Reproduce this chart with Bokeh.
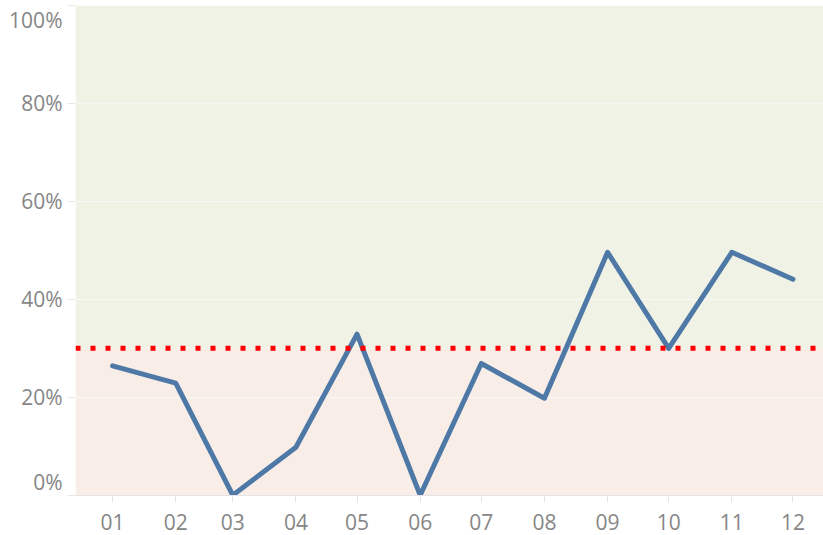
from datetime import datetime
from bokeh.plotting import figure
from bokeh.models import (Range1d, FixedTicker, MonthsTicker, DatetimeTickFormatter,
                          BoxAnnotation, Span)
from bokeh.embed import file_html
from bokeh.resources import INLINE

# ---- data ----
months = ["2019-01-01", "2019-02-01", "2019-03-01", "2019-04-01", "2019-05-01", "2019-06-01",
          "2019-07-01", "2019-08-01", "2019-09-01", "2019-10-01", "2019-11-01", "2019-12-01"]
rates = [26.4, 22.9, 0.0, 9.8, 32.9, 0.0, 26.9, 19.8, 49.6, 30.0, 49.6, 44.1]
target = 30.0
y_ticks = [0, 20, 40, 60, 80, 100]
y_tick_labels = ["0%", "20%", "40%", "60%", "80%", "100%"]

x = [datetime.fromisoformat(m) for m in months]

FONT = "Open Sans"
LABEL_COLOR = "#868686"

p = figure(width=823, height=535, x_axis_type="datetime",
           output_backend="svg", toolbar_location=None,
           x_range=Range1d(datetime(2018, 12, 13, 19), datetime(2019, 12, 16)),
           y_range=Range1d(-0.06, 100.0),
           min_border_left=75, min_border_right=0, min_border_top=5, min_border_bottom=40)
p.outline_line_color = None
p.background_fill_color = "white"
p.border_fill_color = "white"

# shaded bands above / below target
p.add_layout(BoxAnnotation(bottom=target, fill_color="#eff2e4", fill_alpha=1.0,
                           line_color=None, level="image"))
p.add_layout(BoxAnnotation(top=target, fill_color="#f9ede7", fill_alpha=1.0,
                           line_color=None, level="image"))

p.line(x, rates, line_width=5, line_color="#4e79a7", line_join="round", line_cap="round")

p.add_layout(Span(location=target, dimension="width", line_color="#ff0000",
                  line_width=5, line_dash="5 10"))

# x axis
p.xaxis.ticker = MonthsTicker(months=list(range(12)))
p.xaxis.formatter = DatetimeTickFormatter(months="%m", days="%m", years="%m")
p.xaxis.major_label_text_font = FONT
p.xaxis.major_label_text_font_size = "21px"
p.xaxis.major_label_text_color = LABEL_COLOR
p.xaxis.axis_line_color = "#e4e4e4"
p.xaxis.major_tick_line_color = "#e4e4e4"
p.xaxis.major_tick_out = 7
p.xaxis.major_tick_in = 0
p.xaxis.minor_tick_line_color = None
p.xaxis.major_label_standoff = 11

# y axis (end labels kept inside the plot area, as in the original)
label_pos = []
for v in y_ticks:
    if v == y_ticks[0]:
        label_pos.append(v + 2.7)
    elif v == y_ticks[-1]:
        label_pos.append(v - 2.9)
    else:
        label_pos.append(v)
p.yaxis.ticker = FixedTicker(ticks=label_pos, minor_ticks=y_ticks)
p.yaxis.major_label_overrides = {pos: lbl for pos, lbl in zip(label_pos, y_tick_labels)}
p.yaxis.major_label_text_font = FONT
p.yaxis.major_label_text_font_size = "21px"
p.yaxis.major_label_text_color = LABEL_COLOR
p.yaxis.axis_line_color = None
p.yaxis.major_tick_line_color = None
p.yaxis.major_tick_out = 8
p.yaxis.major_tick_in = 0
p.yaxis.minor_tick_line_color = "#e8e8e8"
p.yaxis.minor_tick_out = 8
p.yaxis.minor_tick_in = 0
p.yaxis.major_label_standoff = 5

p.xgrid.grid_line_color = None
p.ygrid.ticker = FixedTicker(ticks=y_ticks[1:-1])
p.ygrid.grid_line_color = "#f7f7f3"
p.ygrid.grid_line_width = 1.5

open("out.html", "w").write(file_html(p, INLINE))
